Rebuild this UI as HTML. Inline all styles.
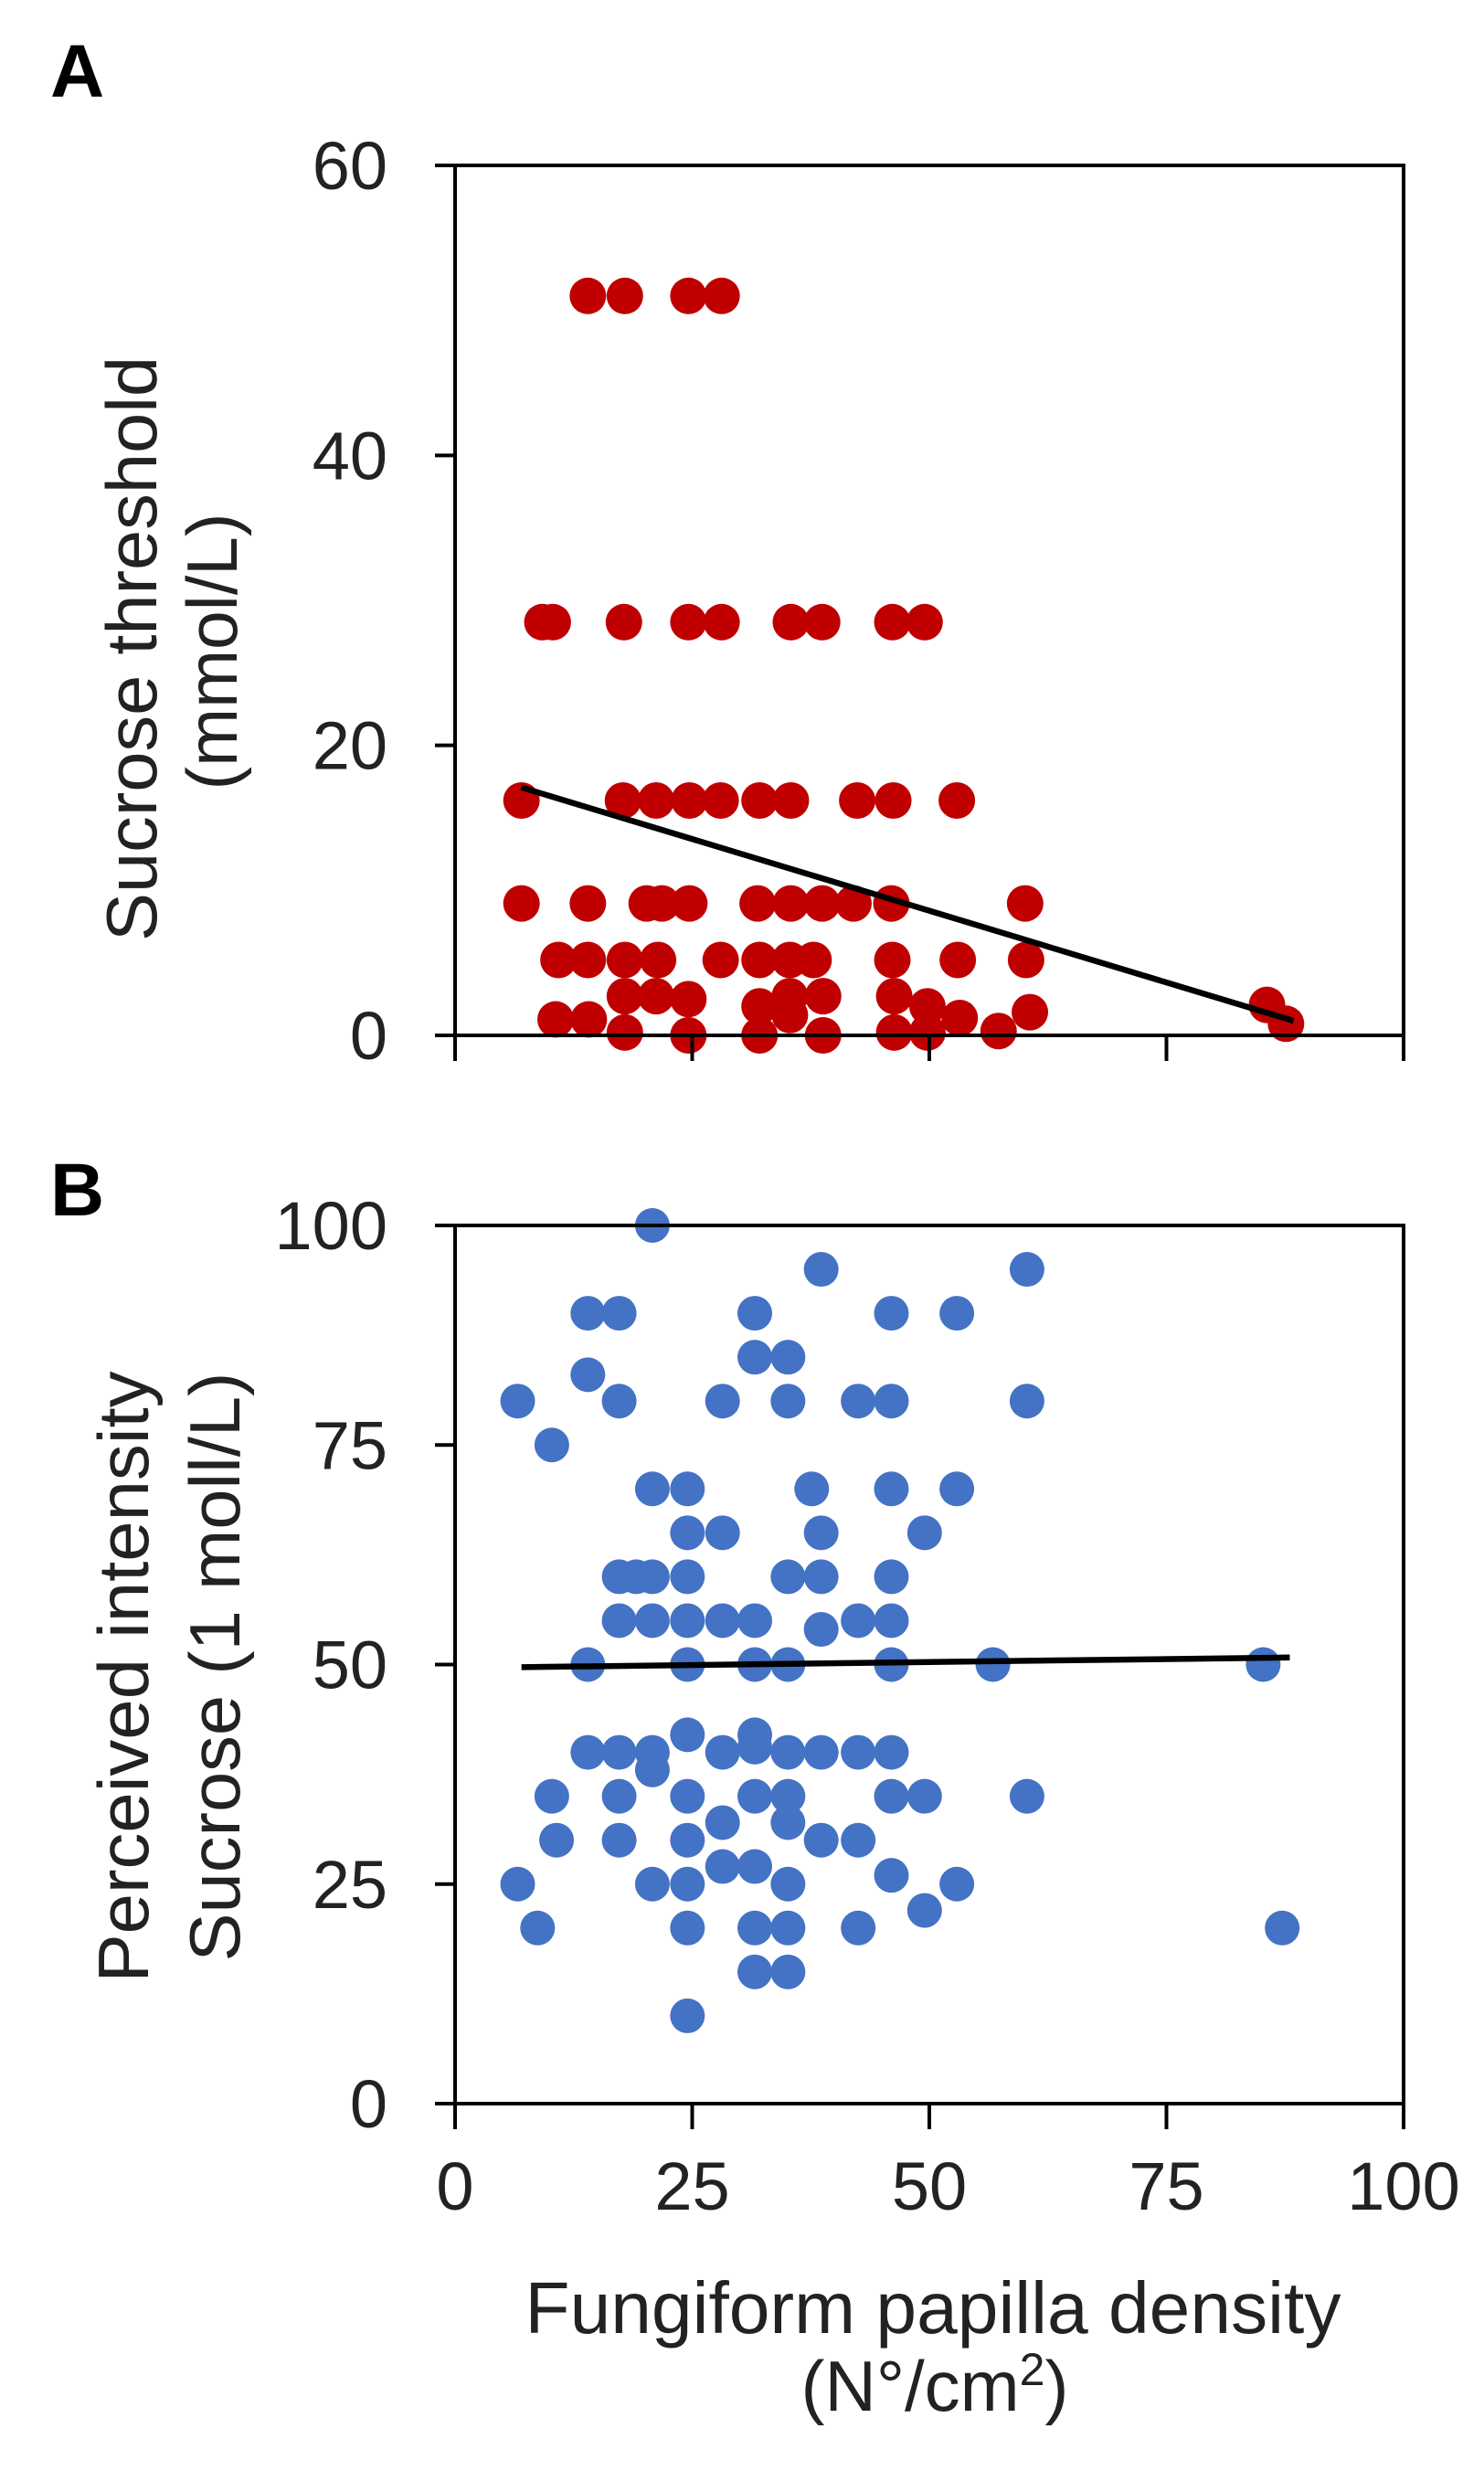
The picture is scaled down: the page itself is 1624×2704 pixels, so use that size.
<!DOCTYPE html>
<html><head><meta charset="utf-8"><style>
html,body{margin:0;padding:0;background:#fff;}
svg{display:block;font-family:"Liberation Sans",Arial,sans-serif;}
</style></head><body>
<svg id="fig" width="1624" height="2704" viewBox="0 0 1624 2704">
<text x="55" y="106" font-size="82" font-weight="bold" fill="#000">A</text>
<text x="55" y="1330" font-size="82" font-weight="bold" fill="#000">B</text>
<g id="pa"></g>
<g id="pb"></g>
<text transform="translate(171,710) rotate(-90)" text-anchor="middle" font-size="78" textLength="640" lengthAdjust="spacingAndGlyphs" fill="#222">Sucrose threshold</text>
<text transform="translate(259,713) rotate(-90)" text-anchor="middle" font-size="78" textLength="303" lengthAdjust="spacingAndGlyphs" fill="#222">(mmol/L)</text>
<text transform="translate(162,1835) rotate(-90)" text-anchor="middle" font-size="78" textLength="669" lengthAdjust="spacingAndGlyphs" fill="#222">Perceived intensity</text>
<text transform="translate(262,1824) rotate(-90)" text-anchor="middle" font-size="78" textLength="645" lengthAdjust="spacingAndGlyphs" fill="#222">Sucrose (1 moll/L)</text>
<text x="1021" y="2553" text-anchor="middle" font-size="80" textLength="893" lengthAdjust="spacingAndGlyphs" fill="#222">Fungiform papilla density</text>
<text x="1023" y="2638" text-anchor="middle" font-size="78" fill="#222">(N°/cm<tspan font-size="50" dy="-28">2</tspan><tspan dy="28">)</tspan></text>
</svg>
<script>
// Panel A data (sucrose threshold, mmol/L)
const aX = [14.0,17.9,24.6,28.1,
 9.2,10.3,17.8,24.6,28.1,35.4,38.7,46.1,49.5,
 7.0,17.7,21.2,24.7,28.0,32.1,35.4,42.4,46.2,52.9,
 7.0,14.0,20.2,21.8,24.7,31.9,35.4,38.7,42.0,46.0,60.1,
 10.9,14.0,17.9,21.4,28.0,32.1,35.3,37.8,46.1,53.0,60.2,
 10.6,14.1,17.9,17.9,21.2,24.6,24.6,32.1,32.1,35.3,35.3,38.8,38.8,46.3,46.3,49.8,49.8,53.2,57.3,60.6,85.6,87.6];
const aY = [51,51,51,51,
 28.5,28.5,28.5,28.5,28.5,28.5,28.5,28.5,28.5,
 16.2,16.2,16.2,16.2,16.2,16.2,16.2,16.2,16.2,16.2,
 9.1,9.1,9.1,9.1,9.1,9.1,9.1,9.1,9.1,9.1,9.1,
 5.2,5.2,5.2,5.2,5.2,5.2,5.2,5.2,5.2,5.2,5.2,
 1.1,1.1,2.7,0.2,2.7,2.5,0,2.0,0,2.7,1.4,2.7,0,2.7,0.2,2.0,0.2,1.2,0.3,1.6,2.1,0.8];
const aTrendX = [7, 88.4];
const aTrendY = [17.1, 1.0];
const aYTicks = [0,20,40,60];
const xTicks = [0,25,50,75,100];
// Panel B data (perceived intensity)
const bX = [20.8,38.6,60.3,14.0,17.3,31.6,46,52.9,31.6,35.1,14,6.6,17.3,28.2,35.1,42.5,46,60.3,10.2,
 20.8,24.5,37.6,46,52.9,24.5,28.2,38.6,49.5,17.3,19.1,20.8,24.5,35.1,38.6,46,
 17.3,20.8,24.5,28.2,31.6,38.6,42.5,46,14,24.5,31.6,35.1,46,56.7,85.2,
 24.5,31.6,14,17.3,20.8,28.2,31.6,35.1,38.6,42.5,46,20.8,
 10.2,17.3,24.5,31.6,35.1,46,49.5,60.3,35.1,28.2,10.7,17.3,24.5,38.6,42.5,28.2,31.6,46,
 6.6,20.8,24.5,35.1,52.9,49.5,8.7,24.5,31.6,35.1,42.5,87.2,31.6,35.1,24.5];
const bY = [100,95,95,90,90,90,90,90,85,85,83,80,80,80,80,80,80,80,75,
 70,70,70,70,70,65,65,65,65,60,60,60,60,60,60,60,
 55,55,55,55,55,54,55,55,50,50,50,50,50,50,50,
 42,42,40,40,40,40,40.6,40,40,40,40,38,
 35,35,35,35,35,35,35,35,32,32,30,30,30,30,30,27,27,26,
 25,25,25,25,25,22,20,20,20,20,20,20,15,15,10];
const bTrendX = [7, 88];
const bTrendY = [49.7, 50.8];
const bYTicks = [0,25,50,75,100];

const NS = "http://www.w3.org/2000/svg";
function mk(tag, attrs, parent){const e=document.createElementNS(NS,tag);for(const k in attrs)e.setAttribute(k,attrs[k]);parent.appendChild(e);return e;}

function panel(g, opts){
  const L=498,R=1536,T=opts.top,B=opts.bottom;
  const sx=v=>L+(v-0)/100*(R-L);
  const sy=v=>B-(v-opts.ymin)/(opts.ymax-opts.ymin)*(B-T);
  for(let i=0;i<opts.xs.length;i++){
    const c=mk('circle',{cx:sx(opts.xs[i]),cy:sy(opts.ys[i]),r:opts.r,fill:opts.color},g);
    
    
  }
  const tl=mk('line',{x1:sx(opts.tx[0]),y1:sy(opts.ty[0]),x2:sx(opts.tx[1]),y2:sy(opts.ty[1]),stroke:'#000','stroke-width':6.5},g);
  
  
  const fr=mk('rect',{x:L,y:T,width:R-L,height:B-T,fill:'none',stroke:'#000','stroke-width':4},g);
  
  
  opts.yticks.forEach(v=>{
    const t=mk('line',{x1:476,x2:L,y1:sy(v),y2:sy(v),stroke:'#000','stroke-width':4},g);
    
    
    const tx=mk('text',{x:424,y:sy(v)+26,'text-anchor':'end','font-size':74,fill:'#222'},g);
    tx.textContent=String(v);
    
    
  });
  xTicks.forEach(v=>{
    const t=mk('line',{x1:sx(v),x2:sx(v),y1:B,y2:B+28,stroke:'#000','stroke-width':4},g);
    
    
    if(opts.xlabels){
      const tx=mk('text',{x:sx(v),y:2418,'text-anchor':'middle','font-size':74,fill:'#222'},g);
      tx.textContent=String(v);
      
      
    }
  });
}
panel(document.getElementById('pa'),{top:181,bottom:1133,ymin:0,ymax:60,xs:aX,ys:aY,tx:aTrendX,ty:aTrendY,yticks:aYTicks,r:20,color:'#C00000',prefix:'panel-a',xlabels:false});
panel(document.getElementById('pb'),{top:1341,bottom:2302,ymin:0,ymax:100,xs:bX,ys:bY,tx:bTrendX,ty:bTrendY,yticks:bYTicks,r:19,color:'#4472C4',prefix:'panel-b',xlabels:true});
</script>
</body></html>
